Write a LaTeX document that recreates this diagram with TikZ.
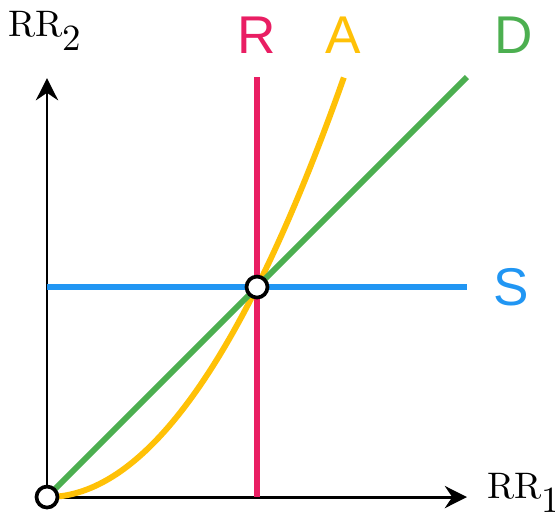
\documentclass[tikz,border=0pt]{standalone}
\usepackage{fontspec}
\newfontfamily\labelfont{Liberation Sans}
\usetikzlibrary{arrows.meta, positioning}

\definecolor{rcol}{HTML}{E91E63}
\definecolor{acol}{HTML}{FFC107}
\definecolor{dcol}{HTML}{4CAF50}
\definecolor{scol}{HTML}{2196F3}

\begin{document}
\begin{tikzpicture}[
    x=2cm, y=2cm,
    axis/.style={-{Stealth[length=6pt, width=6pt, inset=2pt]}, black, line width=0.8pt},
    curve/.style={line width=1.6pt},
    point/.style={circle, draw=black, fill=white, line width=1pt, inner sep=0pt, minimum size=0.2cm},
    curvelabel/.style={font=\labelfont\fontsize{14.4}{16}\selectfont},
    axislabel/.style={font=\fontsize{10}{12}\selectfont}
]

% Bounding box
\useasboundingbox (-0.2238,-0.1) rectangle (2.419,2.367);

% Max value
\def\M{2}

% Points
\coordinate (o) at (0,0);
\coordinate (p) at (1,1);

% Axes
\coordinate (xend) at (2.0,0);
\coordinate (yend) at (0,1.995);
\draw[axis] (o) -- (xend);
\draw[axis] (o) -- (yend);
\node[axislabel] (rr1) at (2.27,0.02) {RR\raisebox{-3.8pt}{1}};
\node[axislabel] (rr2) at (-0.01,2.22) {RR\raisebox{-3.8pt}{2}};

% Lines
\coordinate (sstart) at (0,1);
\coordinate (send) at (\M,1);
\coordinate (rstart) at (1,0);
\coordinate (rend) at (1,\M);
\coordinate (dend) at (\M,\M);
\draw[curve, scol] (sstart) -- (send);
\draw[curve, rcol] (rstart) -- (rend);
\draw[curve, acol] plot[domain=0:1.414, samples=60, smooth] (\x,{\x*\x});
\draw[curve, dcol] (o) -- (dend);

% Line labels
\node[curvelabel, rcol] (rlab) at (1,2.2) {R};
\node[curvelabel, acol] (alab) at (1.41,2.2) {A};
\node[curvelabel, dcol] (dlab) at (2.22,2.2) {D};
\node[curvelabel, scol] (slab) at (2.21,1) {S};

% Marked points
\node[point] (origin) at (o) {};
\node[point] (cross) at (p) {};

\end{tikzpicture}
\end{document}
